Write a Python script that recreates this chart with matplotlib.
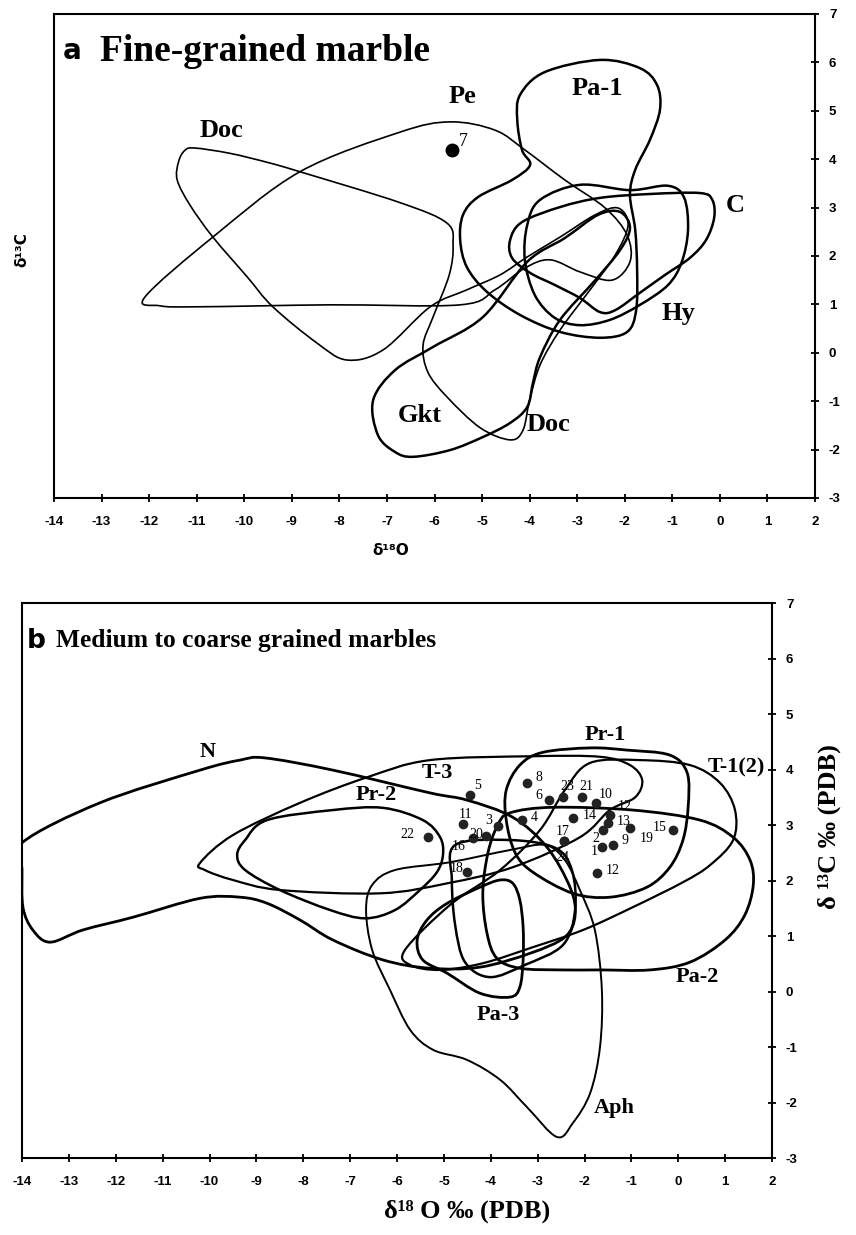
import numpy as np
import matplotlib
matplotlib.use("Agg")
import matplotlib.pyplot as plt
from matplotlib.path import Path
from matplotlib.patches import PathPatch

plt.rcParams['axes.unicode_minus'] = False

# ============================================================
# Panel a : fine-grained marble fields (outline vertices, d18O / d13C)
# ============================================================

a_doc_x = [-11.04, -10.3, -9.5, -8.83, -6.72, -5.74, -5.61, -5.69, -6.03, -6.24, -6.14, -5.74, -5.04, -4.41,
           -4.14, -4.00, -3.78, -3.36, -2.73, -2.20, -1.93, -2.14, -2.62, -3.36, -4.05, -4.62,
           -5.32, -6.09, -7.08, -7.84, -8.47, -9.40, -9.94, -10.66, -11.14, -11.41, -11.38, -11.25]
a_doc_y = [4.23, 4.12, 3.93, 3.74, 3.10, 2.68, 2.23, 1.61, 0.74, 0.16, -0.40, -0.91, -1.55, -1.80,
           -1.60, -0.98, -0.25, 0.47, 1.30, 2.02, 2.64, 2.99, 2.85, 2.39, 1.98, 1.61,
           1.30, 0.95, 0.06, -0.15, 0.20, 0.95, 1.57, 2.39, 3.05, 3.57, 3.95, 4.18]

a_pe_x = [-12.09, -10.66, -8.83, -6.72, -5.67, -4.73, -4.10, -3.26, -2.41, -1.95, -1.89, -2.27,
          -2.94, -3.57, -4.10, -4.73, -5.46, -8.20, -10.93, -11.77]
a_pe_y = [1.15, 2.39, 3.74, 4.56, 4.77, 4.60, 4.19, 3.57, 2.99, 2.43, 1.88, 1.50,
          1.67, 1.92, 1.75, 1.30, 0.99, 0.99, 0.95, 0.97]

a_pa1_x = [-4.20, -3.68, -2.52, -1.68, -1.32, -1.26, -1.47, -1.78, -1.89, -1.78, -1.74, -1.76,
           -1.95, -2.52, -3.36, -4.20, -4.90, -5.32, -5.46, -5.40, -5.08, -4.37, -3.99, -4.16, -4.26]
a_pa1_y = [5.33, 5.80, 6.05, 5.88, 5.53, 5.02, 4.40, 3.78, 3.26, 2.54, 1.71, 0.88,
           0.43, 0.31, 0.43, 0.78, 1.26, 1.77, 2.33, 2.85, 3.22, 3.57, 3.88, 4.19, 4.81]

a_c_x = [-4.41, -4.16, -3.36, -2.52, -1.47, -0.42, -0.16, -0.12, -0.29, -0.63, -1.15, -1.68,
         -2.20, -2.52, -2.94, -3.47, -3.99, -4.37]
a_c_y = [2.33, 2.70, 3.01, 3.20, 3.28, 3.30, 3.16, 2.79, 2.33, 1.96, 1.61, 1.24,
         0.88, 0.84, 1.13, 1.40, 1.65, 1.96]

a_hy_x = [-3.78, -2.94, -1.89, -1.09, -0.75, -0.67, -0.80, -1.09, -1.68, -2.31, -2.94, -3.47,
          -3.89, -4.10, -4.05]
a_hy_y = [3.16, 3.47, 3.36, 3.45, 3.20, 2.54, 1.88, 1.40, 0.99, 0.68, 0.57, 0.72,
          1.19, 1.92, 2.64]

a_gkt_x = [-6.45, -5.67, -4.98, -4.41, -4.05, -3.93, -3.78, -3.36, -2.62, -2.10, -1.89, -2.10,
           -2.56, -3.26, -4.05, -4.98, -6.03, -6.83, -7.29, -7.19, -6.83]
a_gkt_y = [-2.15, -2.01, -1.74, -1.45, -1.12, -0.62, -0.09, 0.68, 1.50, 2.12, 2.58, 2.91,
           2.85, 2.37, 1.88, 0.74, 0.12, -0.36, -0.98, -1.70, -2.05]

a_fields = [(a_doc_x, a_doc_y, 1.2), (a_pe_x, a_pe_y, 1.2), (a_pa1_x, a_pa1_y, 1.8),
            (a_c_x, a_c_y, 1.8), (a_hy_x, a_hy_y, 1.8), (a_gkt_x, a_gkt_y, 1.8)]

a_labels = ["Doc", "Pe", "Pa-1", "C", "Hy", "Gkt", "Doc"]
a_label_x = [-10.47, -5.42, -2.58, 0.32, -0.88, -6.30, -3.61]
a_label_y = [4.60, 5.29, 5.47, 3.05, 0.82, -1.29, -1.49]

a_sample_x = [-5.63]
a_sample_y = [4.19]
a_sample_id = ["7"]

# ============================================================
# Panel b : medium to coarse grained marbles
# ============================================================

b_n_x = [-14.0, -12.34, -10.2, -9.35, -8.82, -7.37, -5.30, -4.51, -3.53, -2.80, -2.31, -2.20,
         -2.42, -3.16, -4.23, -5.30, -6.30, -7.37, -8.07, -8.77, -9.35, -10.2, -11.63, -12.7,
         -13.4, -13.77, -13.98, -14.0]
b_n_y = [2.68, 3.40, 3.99, 4.17, 4.21, 3.99, 3.58, 3.45, 3.14, 2.60, 1.88, 1.38,
         0.98, 0.69, 0.44, 0.42, 0.57, 0.93, 1.29, 1.59, 1.70, 1.68, 1.34, 1.11,
         0.89, 1.11, 1.52, 2.20]

b_t3_x = [-10.2, -9.5, -8.07, -6.64, -5.30, -3.10, -1.67, -1.03, -0.77, -0.92, -1.46, -2.10,
          -3.53, -4.93, -6.36, -8.5, -9.5, -10.1]
b_t3_y = [2.32, 2.82, 3.40, 3.86, 4.17, 4.24, 4.23, 4.08, 3.81, 3.50, 3.27, 2.78,
          2.24, 1.95, 1.77, 1.83, 2.01, 2.19]

b_pr2_x = [-8.77, -7.37, -6.30, -5.45, -5.08, -5.02, -5.15, -5.51, -6.04, -6.68, -7.43, -8.5,
           -9.24, -9.41, -9.24]
b_pr2_y = [3.09, 3.27, 3.31, 3.09, 2.78, 2.46, 2.15, 1.83, 1.47, 1.32, 1.47, 1.83,
           2.19, 2.46, 2.73]

b_pr1_x = [-2.89, -1.88, -1.09, -0.18, 0.19, 0.21, 0.10, -0.18, -0.67, -1.46, -2.25, -3.10,
           -3.48, -3.67, -3.67, -3.38]
b_pr1_y = [4.31, 4.39, 4.35, 4.26, 3.94, 3.32, 2.73, 2.24, 1.88, 1.70, 1.77, 2.15,
           2.50, 3.09, 3.63, 4.08]

b_t12_x = [-1.88, -0.82, 0.25, 0.89, 1.21, 1.17, 0.68, 0.10, -0.97, -2.03, -3.10, -4.17,
           -5.08, -5.72, -5.83, -4.87, -3.80, -2.95, -2.42]
b_t12_y = [4.12, 4.17, 4.08, 3.76, 3.27, 2.73, 2.28, 1.97, 1.52, 1.11, 0.80, 0.51,
           0.39, 0.48, 0.75, 1.56, 2.19, 2.91, 3.63]

b_pa2_x = [-3.59, -2.67, -0.97, 0.46, 1.17, 1.53, 1.60, 1.42, 1.00, 0.25, -0.60, -1.67,
           -2.52, -3.38, -3.87, -4.08, -4.17, -4.06, -3.85]
b_pa2_y = [3.22, 3.32, 3.27, 3.09, 2.78, 2.37, 1.92, 1.38, 0.93, 0.53, 0.39, 0.39,
           0.39, 0.42, 0.60, 1.05, 1.77, 2.50, 3.00]

b_pa3_x = [-5.57, -5.36, -4.93, -4.23, -3.80, -3.53, -3.38, -3.31, -3.31, -3.38, -3.59, -4.23,
           -4.93, -5.45]
b_pa3_y = [0.93, 1.29, 1.59, 1.88, 2.01, 1.95, 1.65, 1.16, 0.57, 0.08, -0.10, -0.03,
           0.33, 0.57]

b_box_x = [-4.76, -4.83, -4.76, -4.55, -4.02, -3.27, -2.46, -2.20, -2.27, -2.63, -3.59]
b_box_y = [2.64, 2.01, 1.20, 0.53, 0.26, 0.48, 0.84, 1.47, 2.19, 2.59, 2.73]

b_aph_x = [-6.04, -4.87, -3.59, -2.84, -2.42, -2.10, -1.78, -1.63, -1.67, -1.88, -2.25, -2.59,
           -3.23, -3.80, -4.51, -5.23, -5.72, -6.15, -6.53, -6.66, -6.53]
b_aph_y = [2.19, 2.33, 2.55, 2.64, 2.37, 1.83, 1.11, 0.03, -1.00, -1.83, -2.37, -2.62,
           -2.08, -1.59, -1.23, -1.05, -0.69, 0.03, 0.75, 1.47, 1.92]

b_fields = [(b_n_x, b_n_y, 2.0), (b_t3_x, b_t3_y, 1.6), (b_pr2_x, b_pr2_y, 1.8),
            (b_pr1_x, b_pr1_y, 2.0), (b_t12_x, b_t12_y, 1.6), (b_pa2_x, b_pa2_y, 2.0),
            (b_pa3_x, b_pa3_y, 2.0), (b_box_x, b_box_y, 1.8), (b_aph_x, b_aph_y, 1.4)]

b_labels = ["N", "T-3", "Pr-2", "Pr-1", "T-1(2)", "Pa-2", "Pa-3", "Aph"]
b_label_x = [-10.05, -5.13, -6.45, -1.56, 1.25, 0.40, -3.85, -1.37]
b_label_y = [4.32, 3.94, 3.54, 4.62, 4.03, 0.26, -0.42, -2.10]

b_sample_id = ["5", "8", "6", "23", "21", "10", "12", "14", "13", "2", "9", "1", "19", "15",
               "12", "17", "24", "4", "3", "11", "20", "16", "22", "18"]
b_sample_x = [-4.44, -3.23, -2.76, -2.46, -2.05, -1.75, -1.46, -2.25, -1.50, -1.60, -1.39, -1.63,
              -1.03, -0.11, -1.73, -2.44, -2.44, -3.33, -3.85, -4.60, -4.10, -4.38, -5.34, -4.51]
b_sample_y = [3.54, 3.76, 3.45, 3.50, 3.50, 3.40, 3.18, 3.13, 3.04, 2.91, 2.64, 2.60,
              2.95, 2.91, 2.14, 2.71, 2.71, 3.09, 2.98, 3.02, 2.80, 2.77, 2.78, 2.15]
# label offsets in points (dx, dy) for the sample numbers
b_id_dx = [3, 6, -10, -2, -2, 2, 6, 7, 6, -8, 6, -8, 7, -15, 6, -6, -6, 6, -9, -3, -12, -15, -20, -12]
b_id_dy = [7, 4, 3, 8, 8, 6, 6, 2, 1, -6, 3, -3, -8, 2, 2, 7, -12, 2, 4, 7, 1, -6, 2, 3]


def closed_path(xs, ys):
    # closed Catmull-Rom outline through the traced vertices, as cubic Bezier pieces
    p = np.column_stack([xs, ys])
    n = len(p)
    verts = [p[0]]
    codes = [Path.MOVETO]
    for i in range(n):
        p0, p1, p2, p3 = p[i - 1], p[i], p[(i + 1) % n], p[(i + 2) % n]
        verts += [p1 + (p2 - p0) / 6.0, p2 - (p3 - p1) / 6.0, p2]
        codes += [Path.CURVE4] * 3
    return Path(verts, codes)


def style_axes(ax):
    ax.set_xlim(-14, 2)
    ax.set_ylim(-3, 7)
    ax.set_xticks(np.arange(-14, 3, 1))
    ax.set_yticks(np.arange(-3, 8, 1))
    ax.yaxis.tick_right()
    ax.tick_params(axis='both', direction='inout', length=6, width=1.3)
    ax.tick_params(axis='x', pad=10)
    ax.tick_params(axis='y', pad=7)
    for lab in ax.get_xticklabels() + ax.get_yticklabels():
        lab.set_fontfamily('Liberation Sans')
        lab.set_fontweight('bold')
        lab.set_fontsize(9.5)
    for s in ax.spines.values():
        s.set_linewidth(1.5)


serif = ['Liberation Serif', 'DejaVu Serif']

fig = plt.figure(figsize=(8.56, 12.35), dpi=100)

# ---------------- panel a ----------------
ax1 = fig.add_axes([0.0631, 0.5968, 0.889, 0.3919])
style_axes(ax1)
for xs, ys, lw in a_fields:
    ax1.add_patch(PathPatch(closed_path(xs, ys), facecolor='none', edgecolor='black', lw=lw))
for t, x, y in zip(a_labels, a_label_x, a_label_y):
    ax1.text(x, y, t, family=serif, fontweight='bold', fontsize=19, ha='center', va='center')
ax1.plot(a_sample_x, a_sample_y, 'o', color='black', ms=9)
for t, x, y in zip(a_sample_id, a_sample_x, a_sample_y):
    ax1.annotate(t, (x, y), xytext=(5, 3), textcoords='offset points', family=serif,
                 fontsize=13)
ax1.text(0.012, 0.952, "a", transform=ax1.transAxes, fontsize=20, fontweight='bold',
         family='DejaVu Sans', va='top')
ax1.text(0.06, 0.958, "Fine-grained marble", transform=ax1.transAxes, fontsize=27,
         fontweight='bold', family=serif, va='top')
fig.text(0.456, 0.5545, "δ¹⁸O", ha='center', va='center', fontsize=11, fontweight='bold',
         family='DejaVu Sans')
fig.text(0.026, 0.798, "δ¹³C", ha='center', va='center', rotation=90, fontsize=11,
         fontweight='bold', family='DejaVu Sans')

# ---------------- panel b ----------------
ax2 = fig.add_axes([0.0257, 0.0623, 0.8762, 0.4494])
style_axes(ax2)
for xs, ys, lw in b_fields:
    ax2.add_patch(PathPatch(closed_path(xs, ys), facecolor='none', edgecolor='black', lw=lw))
for t, x, y in zip(b_labels, b_label_x, b_label_y):
    ax2.text(x, y, t, family=serif, fontweight='bold', fontsize=16, ha='center', va='center')
ax2.plot(b_sample_x, b_sample_y, 'o', color='#222222', ms=6)
for t, x, y, dx, dy in zip(b_sample_id, b_sample_x, b_sample_y, b_id_dx, b_id_dy):
    ax2.annotate(t, (x, y), xytext=(dx, dy), textcoords='offset points', family=serif,
                 fontsize=10, ha='left', va='center')
ax2.text(0.006, 0.955, "b", transform=ax2.transAxes, fontsize=19, fontweight='bold',
         family='DejaVu Sans', va='top')
ax2.text(0.045, 0.953, "Medium to coarse grained marbles", transform=ax2.transAxes,
         fontsize=18.4, fontweight='bold', family=serif, va='top')
fig.text(0.546, 0.019, "δ¹⁸ O ‰ (PDB)", ha='center', va='center', fontsize=19,
         fontweight='bold', family=serif)
fig.text(0.969, 0.331, "δ ¹³C ‰ (PDB)", ha='center', va='center', rotation=90,
         fontsize=19, fontweight='bold', family=serif)

fig.savefig("out.png", dpi=100)
